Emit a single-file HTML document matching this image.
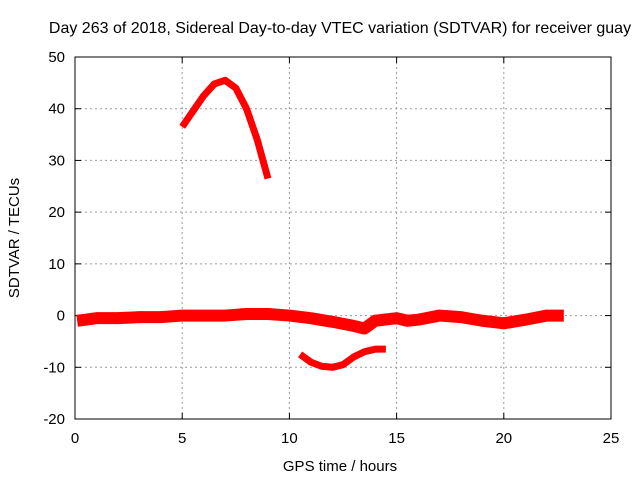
<!DOCTYPE html>
<html><head><meta charset="utf-8"><style>
body{margin:0;background:#fff}
svg{display:block;font-family:"Liberation Sans",sans-serif}
</style></head><body>
<svg id="chart" width="640" height="480">
<text x="340" y="33" font-size="16" text-anchor="middle">Day 263 of 2018, Sidereal Day-to-day VTEC variation (SDTVAR) for receiver guay</text>
<text x="340" y="471" font-size="15" text-anchor="middle">GPS time / hours</text>
<text transform="translate(19,238) rotate(-90)" font-size="15" text-anchor="middle">SDTVAR / TECUs</text>
<g id="grid"></g><g id="series"></g>
<rect x="75" y="57" width="536" height="362" fill="none" stroke="#000" stroke-width="1"/>
</svg>
<script>
const xTicks=[0,5,10,15,20,25];
const yTicks=[-20,-10,0,10,20,30,40,50];
const arcHighT=[5.0,5.5,6.0,6.5,7.0,7.5,8.0,8.5,9.0];
const arcHighV=[36.5,39.5,42.5,44.8,45.5,44,40,34,26.5];
const arcLowT=[10.5,11,11.5,12,12.5,13,13.5,14,14.5];
const arcLowV=[-7.5,-9,-9.8,-10,-9.5,-8,-7,-6.5,-6.5];
const bandT=[0.1,0.5,1,2,3,4,5,6,7,8,9,10,11,12,13,13.5,14,15,15.5,16,17,18,19,20,21,22,22.8];
const bandV=[-1,-0.8,-0.5,-0.5,-0.3,-0.3,0,0,0,0.3,0.3,0,-0.5,-1.2,-2,-2.5,-1,-0.5,-1,-0.8,0,-0.3,-1,-1.5,-0.8,0,0];
const X=t=>75+t*(536/25);
const Y=v=>57+(50-v)*(362/70);
const NS='http://www.w3.org/2000/svg';
const svg=document.getElementById('chart'),grid=document.getElementById('grid'),ser=document.getElementById('series');
function mk(tag,attrs,parent){const e=document.createElementNS(NS,tag);for(const k in attrs)e.setAttribute(k,attrs[k]);parent.appendChild(e);return e;}
xTicks.forEach(t=>{
  if(t>0&&t<25){const g=mk('line',{x1:X(t),x2:X(t),y1:57,y2:419,stroke:'#999','stroke-dasharray':'2,3'},grid);
  
  }
  mk('line',{x1:X(t),x2:X(t),y1:419,y2:413,stroke:'#000'},grid);
  mk('line',{x1:X(t),x2:X(t),y1:57,y2:63,stroke:'#000'},grid);
  const l=mk('text',{x:X(t),y:443,'font-size':15,'text-anchor':'middle'},grid);l.textContent=t;
  
  
});
yTicks.forEach(v=>{
  if(v>-20&&v<50){const g=mk('line',{x1:75,x2:611,y1:Y(v),y2:Y(v),stroke:'#999','stroke-dasharray':'2,3'},grid);
  
  }
  mk('line',{x1:75,x2:81,y1:Y(v),y2:Y(v),stroke:'#000'},grid);
  mk('line',{x1:611,x2:605,y1:Y(v),y2:Y(v),stroke:'#000'},grid);
  const l=mk('text',{x:65,y:Y(v)+5,'font-size':15,'text-anchor':'end'},grid);l.textContent=v;
  
  
});
function line(T,V,w,name){
  const p=mk('polyline',{points:T.map((t,i)=>X(t)+','+Y(V[i])).join(' '),fill:'none',stroke:'#f00','stroke-width':w,'stroke-linejoin':'round'},ser);
  
  
}
line(bandT,bandV,12,'sdtvar-band');
line(arcHighT,arcHighV,7,'sdtvar-high-arc');
line(arcLowT,arcLowV,7,'sdtvar-low-arc');
</script>
</body></html>
